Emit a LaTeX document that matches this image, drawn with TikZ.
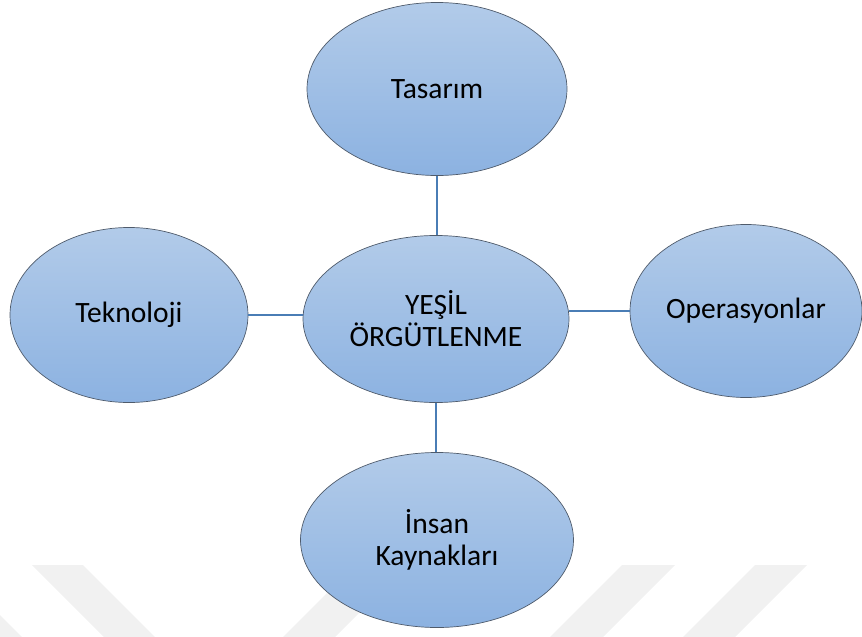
\documentclass[tikz,border=0pt]{standalone}
\usepackage{fontspec}
\setmainfont{Carlito}
\usetikzlibrary{shapes.geometric}
\definecolor{fillTop}{HTML}{B2CBE9}
\definecolor{fillBot}{HTML}{8CB2E1}
\definecolor{edgeCol}{HTML}{4F5B6B}
\definecolor{linkCol}{HTML}{4A7DB5}
\definecolor{wmark}{HTML}{F1F1F1}
\tikzset{
  bubble/.style={ellipse, draw=edgeCol, line width=0.7pt, top color=fillTop, bottom color=fillBot,
    inner sep=0pt, align=center, font=\fontsize{29.5}{32}\selectfont, text=black},
  link/.style={draw=linkCol, line width=2pt},
  wm/.style={fill=wmark, draw=none}
}
\begin{document}
\begin{tikzpicture}[x=1pt,y=-1pt]
\useasboundingbox (0,0) rectangle (862,637);
% faint watermark
\fill[wm] (32,565) -- (83,565) -- (155,637) -- (104,637) -- cycle;
\fill[wm] (355,565) -- (407,565) -- (335,637) -- (283,637) -- cycle;
\fill[wm] (622,565) -- (675,565) -- (603,637) -- (550,637) -- cycle;
\fill[wm] (755,565) -- (807,565) -- (735,637) -- (683,637) -- cycle;
\fill[wm] (0,615) -- (22,637) -- (0,637) -- cycle;
% nodes
\node[bubble, minimum width=260, minimum height=173] (tas) at (437,89) {Tasarım};
\node[bubble, minimum width=266, minimum height=167] (mid) at (436,319) {YEŞİL\\ÖRGÜTLENME};
\node[bubble, minimum width=238, minimum height=175] (tek) at (129,315) {Teknoloji};
\node[bubble, minimum width=232, minimum height=173] (ope) at (746,311) {Operasyonlar};
\node[bubble, minimum width=273, minimum height=175] (ins) at (437,540) {İnsan\\Kaynakları};
% connectors
\draw[link] (tas.south) -- (tas.south |- mid.north);
\draw[link] (mid.south) -- (mid.south |- ins.north);
\draw[link] (tek.east) -- (tek.east -| mid.west);
\draw[link] (ope.west) -- (ope.west -| mid.east);
\end{tikzpicture}
\end{document}
